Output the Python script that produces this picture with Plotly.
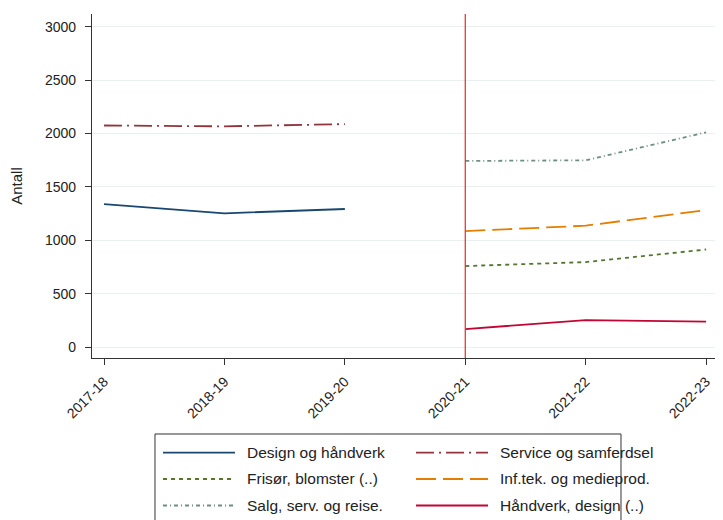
import plotly.graph_objects as go

years = ["2017-18", "2018-19", "2019-20", "2020-21", "2021-22", "2022-23"]
old_years = ["2017-18", "2018-19", "2019-20"]
new_years = ["2020-21", "2021-22", "2022-23"]

design_handverk = [1338, 1252, 1292]
service_samferdsel = [2074, 2066, 2087]
frisor_blomster = [758, 795, 913]
inftek_medieprod = [1085, 1136, 1282]
salg_serv_reise = [1742, 1748, 2010]
handverk_design = [168, 252, 237]

y_ticks = [0, 500, 1000, 1500, 2000, 2500, 3000]

series = [
    ("Design og håndverk", old_years, design_handverk, "#1a476f", "solid"),
    ("Service og samferdsel", old_years, service_samferdsel, "#90353b", "18px,5px,2px,5px"),
    ("Frisør, blomster (..)", new_years, frisor_blomster, "#55752f", "4px,4px"),
    ("Inf.tek. og medieprod.", new_years, inftek_medieprod, "#e37e00", "20px,7px"),
    ("Salg, serv. og reise.", new_years, salg_serv_reise, "#6e8e84", "4px,3px,1px,3px"),
    ("Håndverk, design (..)", new_years, handverk_design, "#c10534", "solid"),
]

fig = go.Figure()
for name, xs, ys, color, dash in series:
    fig.add_trace(go.Scatter(
        x=[years.index(v) for v in xs], y=ys, name=name, mode="lines",
        showlegend=False, line=dict(color=color, width=1.8, dash=dash)))

# vertical reference line at 2020-21
fig.add_shape(type="line", xref="x", yref="paper", x0=years.index("2020-21"),
              x1=years.index("2020-21"), y0=0, y1=1,
              line=dict(color="#e8262b", width=1.2))

# legend box (two columns, three rows)
fig.add_shape(type="rect", xref="paper", yref="paper", x0=0.1011, x1=0.8491,
              y0=-0.52, y1=-0.2209, line=dict(color="#333333", width=1),
              fillcolor="rgba(0,0,0,0)", layer="above")
row_y = [-0.2753, -0.3517, -0.4288]
col_line = [(0.1140, 0.2295), (0.5201, 0.6356)]
col_text = [0.2456, 0.6517]
for i, (name, xs, ys, color, dash) in enumerate(series):
    r, c = i // 2, i % 2
    fig.add_shape(type="line", xref="paper", yref="paper",
                  x0=col_line[c][0], x1=col_line[c][1], y0=row_y[r], y1=row_y[r],
                  line=dict(color=color, width=1.8, dash=dash))
    fig.add_annotation(xref="paper", yref="paper", x=col_text[c], y=row_y[r],
                       text=name, showarrow=False, xanchor="left", yanchor="middle",
                       font=dict(size=15.5, color="#222222"))

# the page body has an 8px margin; keep the figure inside the visible area
fig.update_layout(
    template="none",
    width=707, height=512,
    margin=dict(l=84, r=0, t=6, b=162, autoexpand=False),
    paper_bgcolor="white", plot_bgcolor="white",
    font=dict(family="Liberation Sans, Arial, sans-serif", size=14, color="#222222"),
    showlegend=False,
)

fig.update_xaxes(
    range=[-0.1, 5.074], tickmode="array", tickvals=list(range(len(years))),
    ticktext=years, tickangle=-45, ticks="outside", ticklen=6,
    tickcolor="#333333", showline=True, linecolor="#333333", linewidth=1.2,
    showgrid=False, zeroline=False, automargin=False, ticklabeloverflow="allow",
    ticklabelstandoff=3,
)
fig.update_yaxes(
    range=[-103, 3118], tickmode="array", tickvals=y_ticks,
    ticks="outside", ticklen=6, tickcolor="#333333",
    showline=True, linecolor="#333333", linewidth=1.2,
    showgrid=True, gridcolor="#eaf0f2", gridwidth=1, zeroline=False,
    automargin=False, ticklabelstandoff=6,
    title=dict(text="Antall", standoff=18, font=dict(size=15)),
)

fig.write_html("out.html")
